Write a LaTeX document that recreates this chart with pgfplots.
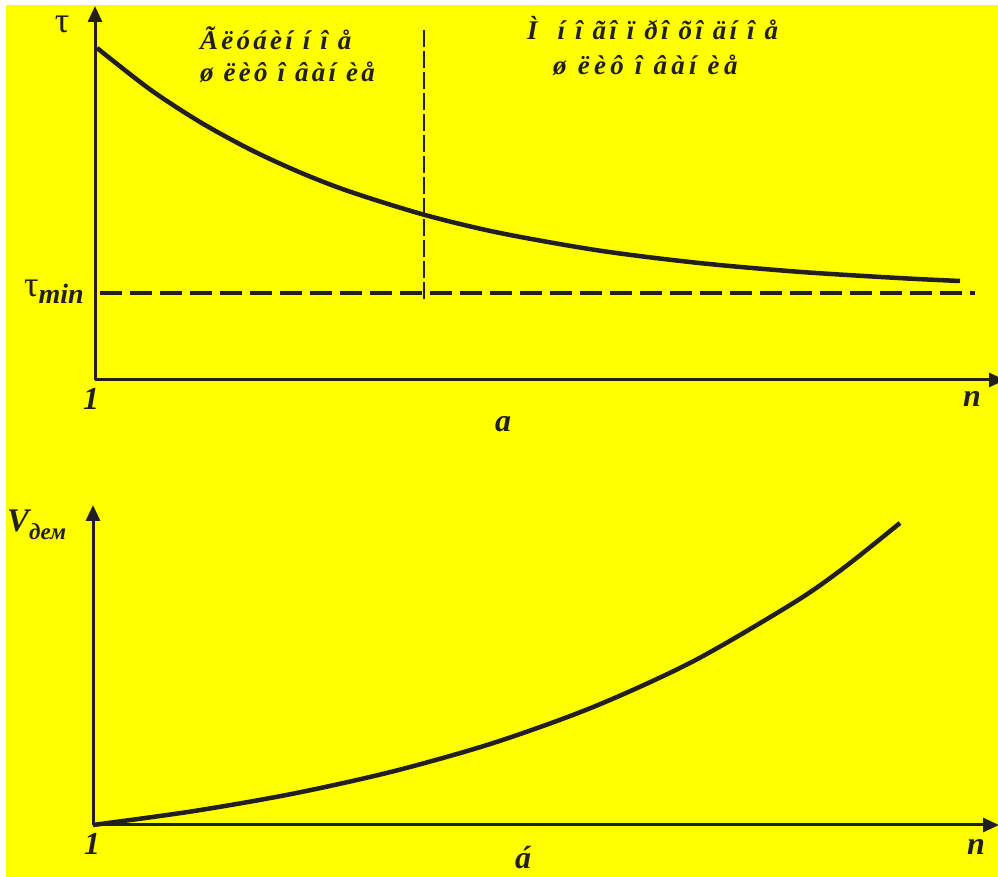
\documentclass[border=0pt]{standalone}
\usepackage{pgfplots}
\pgfplotsset{compat=1.18}
\usetikzlibrary{arrows.meta}
\usepackage{fontspec}
\setmainfont{Liberation Serif}
\definecolor{ink}{HTML}{231F20}
\definecolor{bg}{HTML}{FFFF00}
\newcommand{\bi}{\bfseries\itshape}
\begin{document}
\begin{tikzpicture}[x=1pt,y=1pt]
\useasboundingbox (0,0) rectangle (998,877);
\clip (0,0) rectangle (998,877);
\fill[white] (0,0) rectangle (998,877);
\fill[bg] (6,0) rectangle (998,872);
% top axis
\begin{axis}[
  at={(95pt,497pt)}, anchor=south west,
  scale only axis, width=910pt, height=374pt,
  xmin=0, xmax=910, ymin=0, ymax=374,
  axis lines=left, clip=false,
  axis line style={line width=3pt, color=ink, -{Triangle[length=16pt,width=14pt]}},
  xtick=\empty, ytick=\empty,
]
\addplot[ink, line width=4.5pt, smooth] coordinates {
 (2,332) (55,290.6) (105,258) (155,230.6) (205,207.6) (255,188.3)
 (330,165) (405,147) (505,129.3) (605,116.9) (705,108.1) (805,101.9) (865,99)};
\addplot[ink, line width=4pt, dash pattern=on 22pt off 8pt] coordinates {(5,87) (880,87)};
\addplot[ink, line width=2.5pt, dash pattern=on 17pt off 4pt] coordinates {(329,350) (329,80)};
\end{axis}
% bottom axis
\begin{axis}[
  at={(93pt,52pt)}, anchor=south west,
  scale only axis, width=906pt, height=320pt,
  xmin=0, xmax=906, ymin=0, ymax=320,
  axis lines=left, clip=false,
  axis line style={line width=3pt, color=ink, -{Triangle[length=16pt,width=14pt]}},
  xtick=\empty, ytick=\empty,
]
\addplot[ink, line width=4.5pt, smooth] coordinates {
 (0,0) (100,13.8) (200,31.3) (300,53.6) (400,81.9) (500,117.9)
 (600,163.6) (700,221.8) (750,256.5) (807,302)};
\end{axis}
% labels
\begin{scope}[every node/.style={inner sep=0pt, text=ink}]
\node[anchor=base] at (62,844) {\fontsize{36}{36}\selectfont τ};
\node[anchor=base west] at (24,580) {\fontsize{36}{36}\selectfont τ\raisebox{-7pt}{\fontsize{28}{28}\selectfont\bi min}};
\node[anchor=base] at (91,467) {\fontsize{32}{32}\selectfont\bi 1};
\node[anchor=base] at (972,470) {\fontsize{32}{32}\selectfont\bi n};
\node[anchor=base] at (503,445) {\fontsize{32}{32}\selectfont\bi a};
\node[anchor=base west] at (7,345) {\fontsize{33}{33}\selectfont\bi V\raisebox{-8pt}{\fontsize{23}{23}\selectfont дем}};
\node[anchor=base] at (92,22) {\fontsize{32}{32}\selectfont\bi 1};
\node[anchor=base] at (976,22) {\fontsize{32}{32}\selectfont\bi n};
\node[anchor=base] at (523,8) {\fontsize{32}{32}\selectfont\bi á};
\node[anchor=base west] at (200,827) {\fontsize{27}{27}\selectfont\bi\addfontfeature{LetterSpace=12} Ãëóáèí í î å};
\node[anchor=base west] at (200,795) {\fontsize{27}{27}\selectfont\bi\addfontfeature{LetterSpace=12} ø ëèô î âàí èå};
\node[anchor=base west] at (527,837) {\fontsize{27}{27}\selectfont\bi\addfontfeature{LetterSpace=12} Ì \ í î ãî ï ðî õî äí î å};
\node[anchor=base west] at (553,802) {\fontsize{27}{27}\selectfont\bi\addfontfeature{LetterSpace=16} ø ëèô î âàí èå};
\end{scope}
\end{tikzpicture}
\end{document}
